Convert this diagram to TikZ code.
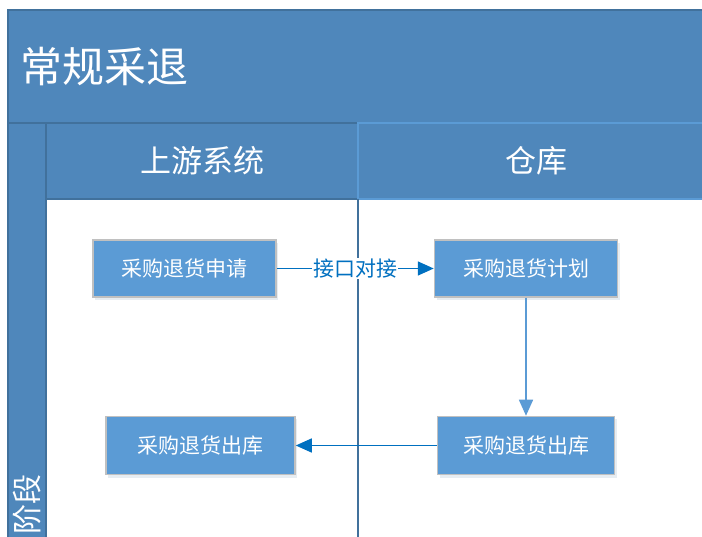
\documentclass[tikz,border=0pt]{standalone}
\usepackage{fontspec}
\setmainfont{Noto Sans CJK SC}
\usetikzlibrary{arrows.meta,positioning,shadows}
\definecolor{laneblue}{HTML}{4F87BB}
\definecolor{laneedge}{HTML}{41719C}
\definecolor{boxblue}{HTML}{5B9BD5}
\definecolor{boxedge}{HTML}{C0C0C0}
\definecolor{linkblue}{HTML}{0070C0}

\begin{document}
\begin{tikzpicture}[
    x=1pt, y=-1pt,
    band/.style={draw=laneedge, line width=1.5pt, fill=laneblue},
    stepbox/.style={rectangle, draw=boxedge, line width=1.5pt, fill=boxblue, text=white, minimum height=57pt, inner sep=0pt, font=\fontsize{21}{25}\selectfont, drop shadow={shadow xshift=2pt, shadow yshift=-3pt, opacity=0.12, fill=laneedge}},
    arrow/.style={line width=1.5pt, draw=linkblue, -{Triangle[length=16pt, width=14pt]}},
    every node/.style={font=\fontsize{21}{25}\selectfont}
]
\useasboundingbox (0,0) rectangle (702,537);
\clip (0,0) rectangle (702,537);

% Lanes
\fill[white] (0,0) rectangle (702,537);
\draw[band] (8,10) rectangle (712,123);
\draw[band] (8,123) rectangle (46,545);
\draw[band] (46,123) rectangle (358,199);
\draw[band, draw=boxblue] (358,123) rectangle (712,199);
\draw[laneedge, line width=1.5pt] (358,199) -- (358,545);
\node[anchor=west, text=white, font=\fontsize{42}{48}\selectfont] (title) at (17,67) {常规采退};
\node[text=white, font=\fontsize{31}{36}\selectfont] (upstream) at (202,161) {上游系统};
\node[text=white, font=\fontsize{31}{36}\selectfont] (warehouse) at (536,161) {仓库};
\node[text=white, rotate=90, font=\fontsize{30}{34}\selectfont] (phase) at (27,504) {阶段};

% Nodes
\node[stepbox, minimum width=183pt] (apply) at (184.5,268.5) {采购退货申请};
\node[stepbox, minimum width=183pt, right=157pt of apply] (plan) {采购退货计划};
\node[stepbox, minimum width=177pt, minimum height=58pt, below=118pt of plan] (outright) {采购退货出库};
\node[stepbox, minimum width=189pt, minimum height=58pt, left=141pt of outright] (outleft) {采购退货出库};

% Arrows
\draw[arrow] (apply) -- node[fill=white, text=linkblue, inner sep=1pt] (link) {接口对接} (plan);
\draw[arrow, draw=boxblue] (plan) -- (outright);
\draw[arrow] (outright) -- (outleft);

\end{tikzpicture}
\end{document}
